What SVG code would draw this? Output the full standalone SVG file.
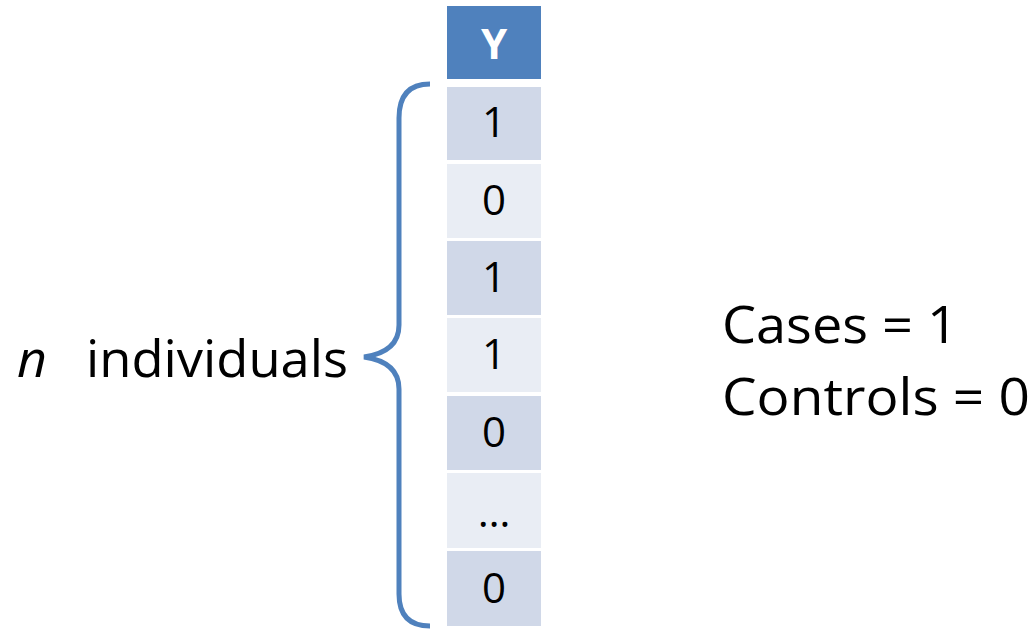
<svg xmlns="http://www.w3.org/2000/svg" width="1035" height="629" viewBox="0 0 1035 629">
<style>
.t{font-family:"Open Sans","Liberation Sans",sans-serif;fill:#000}
.num{font-size:42px;text-anchor:middle}
.big{font-size:52px}
.dk{fill:#D0D8E8}
.lt{fill:#E9EDF4}
</style>
<rect width="1035" height="629" fill="#fff"/>
<g id="table">
<g id="header"><rect x="447" y="6" width="94" height="73" fill="#4F81BD"/><text x="494" y="59" class="t" style="font-size:42px;font-weight:bold;fill:#fff;text-anchor:middle">Y</text></g>
<g id="row1"><rect class="dk" x="447" y="87" width="94" height="73"/><text class="t num" x="494" y="137">1</text></g>
<g id="row2"><rect class="lt" x="447" y="164" width="94" height="74"/><text class="t num" x="494" y="215">0</text></g>
<g id="row3"><rect class="dk" x="447" y="241" width="94" height="74"/><text class="t num" x="494" y="292">1</text></g>
<g id="row4"><rect class="lt" x="447" y="318" width="94" height="74"/><text class="t num" x="494" y="369">1</text></g>
<g id="row5"><rect class="dk" x="447" y="396" width="94" height="74"/><text class="t num" x="494" y="447">0</text></g>
<g id="row6"><rect class="lt" x="447" y="473" width="94" height="75"/><text class="t num" x="494" y="527">…</text></g>
<g id="row7"><rect class="dk" x="447" y="551" width="94" height="75"/><text class="t num" x="494" y="603">0</text></g>
</g>
<g id="connectors">
<path d="M430,84 Q399,84 399,118 L399,325 Q399,352 364,357 Q399,362 399,389 L399,594 Q399,626 430,626" fill="none" stroke="#4F81BD" stroke-width="5"/>
</g>
<g id="label-left">
<text class="t big" x="17" y="377" font-style="italic">n</text>
<text class="t big" x="86" y="377" textLength="262" lengthAdjust="spacingAndGlyphs">individuals</text>
</g>
<g id="label-right">
<text class="t big" x="722" y="343" textLength="236" lengthAdjust="spacingAndGlyphs">Cases = 1</text>
<text class="t big" x="722" y="415" textLength="308" lengthAdjust="spacingAndGlyphs">Controls = 0</text>
</g>
</svg>
